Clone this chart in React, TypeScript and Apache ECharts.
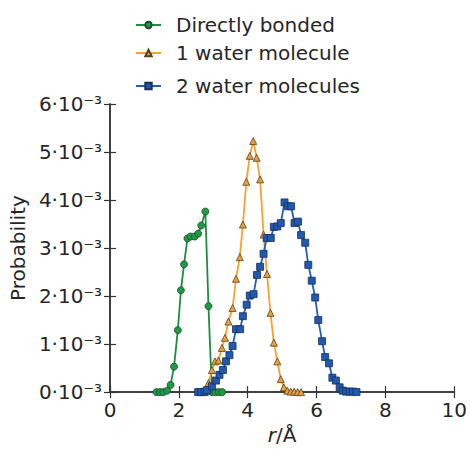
import React, { useEffect, useRef } from "react";
import * as echarts from "echarts";

// r in Å, probability in units of 10^-3
const directR = [1.35, 1.45, 1.55, 1.66, 1.76, 1.86, 1.97, 2.06, 2.15, 2.25, 2.34, 2.46, 2.56, 2.65, 2.77, 2.86, 2.96, 3.06, 3.16, 3.26];
const directP = [0, 0, 0, 0.03, 0.15, 0.53, 1.29, 2.12, 2.66, 3.2, 3.24, 3.24, 3.3, 3.47, 3.76, 1.79, 0, 0, 0, 0];

const oneR = [2.75, 2.86, 2.96, 3.05, 3.15, 3.25, 3.34, 3.44, 3.56, 3.66, 3.77, 3.86, 3.96, 4.06, 4.16, 4.26, 4.36, 4.46, 4.56, 4.66, 4.76, 4.86, 4.96, 5.05, 5.15, 5.25, 5.35, 5.45, 5.55];
const oneP = [0, 0.19, 0.46, 0.64, 0.66, 0.92, 1.13, 1.47, 1.75, 2.36, 2.81, 3.49, 4.38, 4.92, 5.23, 4.88, 4.43, 3.28, 2.46, 1.65, 1.03, 0.64, 0.27, 0.1, 0.03, 0.01, 0.01, 0, 0];

const twoR = [2.56, 2.65, 2.75, 2.82, 2.96, 3.08, 3.18, 3.28, 3.37, 3.47, 3.56, 3.66, 3.78, 3.86, 3.97, 4.06, 4.17, 4.27, 4.36, 4.46, 4.55, 4.67, 4.76, 4.86, 4.96, 5.07, 5.17, 5.26, 5.36, 5.46, 5.55, 5.67, 5.76, 5.86, 5.96, 6.05, 6.16, 6.25, 6.36, 6.46, 6.56, 6.67, 6.76, 6.86, 6.96, 7.06, 7.16];
const twoP = [0, 0, 0.01, 0.04, 0.12, 0.24, 0.36, 0.46, 0.64, 0.77, 0.96, 1.31, 1.31, 1.58, 1.82, 2.01, 2.04, 2.44, 2.61, 2.88, 3.21, 3.21, 3.44, 3.45, 3.52, 3.95, 3.87, 3.87, 3.52, 3.55, 3.27, 3.11, 2.65, 2.32, 1.97, 1.5, 1.06, 0.73, 0.6, 0.3, 0.24, 0.1, 0.03, 0.01, 0.01, 0.01, 0];

const seriesNames = ["Directly bonded", "1 water molecule", "2 water molecules"];
const xTicks = [0, 2, 4, 6, 8, 10];

const FONT = "DejaVu Sans";
const TXT = "#262626";
const FS = 20;

const zip = (a: number[], b: number[]) => a.map((v, i) => [v, b[i]]);

export default function App() {
  const ref = useRef<HTMLDivElement>(null);
  useEffect(() => {
    document.body.style.margin = "0";
    const chart = echarts.init(ref.current!, null, { renderer: "svg" });
    const axisLine = { show: true, lineStyle: { color: "#333", width: 1.5 } };
    const tick = { show: true, inside: true, length: 6, lineStyle: { color: "#333", width: 1.2 } };
    const legendBase = {
      left: 130,
      itemWidth: 25,
      itemHeight: 8,
      textStyle: { fontFamily: FONT, fontSize: FS, color: TXT, padding: [0, 0, 0, 10] },
    };
    chart.setOption({
      animation: false,
      backgroundColor: "#fff",
      grid: { left: 108, top: 104, right: 15, bottom: 49, containLabel: false },
      legend: [
        { ...legendBase, top: 10, data: [seriesNames[0]] },
        { ...legendBase, top: 38, data: [seriesNames[1]] },
        { ...legendBase, top: 71, data: [seriesNames[2]] },
      ],
      xAxis: [
        {
          type: "value",
          min: 0,
          max: 10,
          interval: 2,
          axisLine,
          axisTick: tick,
          splitLine: { show: false },
          axisLabel: {
            fontFamily: FONT,
            fontSize: FS,
            color: TXT,
            margin: 8,
            formatter: (v: number) => (xTicks.includes(v) ? String(v) : ""),
          },
          name: "{i|r}{n|/Å}",
          nameLocation: "middle",
          nameGap: 31,
          nameTextStyle: {
            rich: {
              i: { fontFamily: FONT, fontSize: FS, fontStyle: "italic", color: TXT },
              n: { fontFamily: FONT, fontSize: FS, color: TXT },
            },
          },
        },
        {
          type: "value",
          position: "top",
          min: 0,
          max: 10,
          interval: 2,
          axisLine,
          axisTick: tick,
          axisLabel: { show: false },
          splitLine: { show: false },
        },
      ],
      yAxis: [
        {
          type: "value",
          min: 0,
          max: 6,
          interval: 1,
          axisLine,
          axisTick: tick,
          splitLine: { show: false },
          axisLabel: {
            margin: 8,
            fontFamily: FONT,
            fontSize: FS,
            color: TXT,
            formatter: (v: number) => `${v}·10⁻³`,
          },
          name: "Probability",
          nameLocation: "middle",
          nameGap: 72,
          nameTextStyle: { fontFamily: FONT, fontSize: FS, color: TXT },
        },
        {
          type: "value",
          position: "right",
          min: 0,
          max: 6,
          interval: 1,
          axisLine,
          axisTick: tick,
          axisLabel: { show: false },
          splitLine: { show: false },
        },
      ],
      series: [
        {
          name: seriesNames[0],
          type: "line",
          data: zip(directR, directP),
          symbol: "circle",
          symbolSize: 7,
          lineStyle: { color: "#1b8f3e", width: 1.8 },
          itemStyle: { color: "#1f9a45", borderColor: "#1d4a2a", borderWidth: 0.8 },
          z: 2,
        },
        {
          name: seriesNames[1],
          type: "line",
          data: zip(oneR, oneP),
          symbol: "triangle",
          symbolSize: 7,
          lineStyle: { color: "#f7a12e", width: 1.8 },
          itemStyle: { color: "#e8a03c", borderColor: "#5a4020", borderWidth: 0.8 },
          z: 3,
        },
        {
          name: seriesNames[2],
          type: "line",
          data: zip(twoR, twoP),
          symbol: "rect",
          symbolSize: 7,
          lineStyle: { color: "#1f5fb5", width: 1.8 },
          itemStyle: { color: "#2159b0", borderColor: "#1a2f55", borderWidth: 0.8 },
          z: 4,
        },
      ],
    });
    return () => chart.dispose();
  }, []);
  return <div ref={ref} style={{ width: 470, height: 450 }} />;
}
